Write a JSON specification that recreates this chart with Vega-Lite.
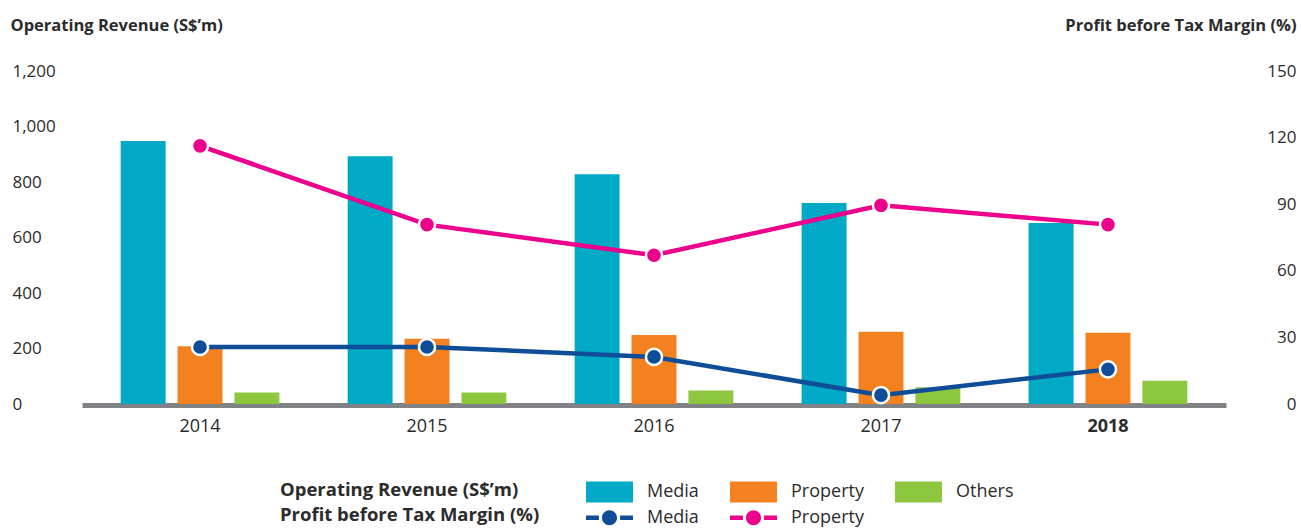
{
  "$schema": "https://vega.github.io/schema/vega-lite/v6.json",
  "width": 1144,
  "height": 333,
  "autosize": "none",
  "padding": {"left": 82, "top": 71, "right": 75, "bottom": 124},
  "background": "white",
  "config": {
    "view": {"stroke": null},
    "font": "Open Sans",
    "axis": {"grid": false, "labelFont": "Open Sans", "titleFont": "Open Sans", "labelColor": "#2b2b2b", "titleColor": "#2b2b2b"},
    "legend": {"labelFont": "Open Sans", "titleFont": "Open Sans", "labelColor": "#2b2b2b", "titleColor": "#2b2b2b"}
  },
  "datasets": {
    "revenue": [
      {"year": "2014", "segment": "Media", "revenue": 948},
      {"year": "2014", "segment": "Property", "revenue": 208},
      {"year": "2014", "segment": "Others", "revenue": 41},
      {"year": "2015", "segment": "Media", "revenue": 893},
      {"year": "2015", "segment": "Property", "revenue": 235},
      {"year": "2015", "segment": "Others", "revenue": 41},
      {"year": "2016", "segment": "Media", "revenue": 828},
      {"year": "2016", "segment": "Property", "revenue": 249},
      {"year": "2016", "segment": "Others", "revenue": 49},
      {"year": "2017", "segment": "Media", "revenue": 724},
      {"year": "2017", "segment": "Property", "revenue": 260},
      {"year": "2017", "segment": "Others", "revenue": 60},
      {"year": "2018", "segment": "Media", "revenue": 652},
      {"year": "2018", "segment": "Property", "revenue": 257},
      {"year": "2018", "segment": "Others", "revenue": 84}
    ],
    "margin": [
      {"year": "2014", "segment": "Media", "margin": 25.7},
      {"year": "2015", "segment": "Media", "margin": 25.7},
      {"year": "2016", "segment": "Media", "margin": 21.2},
      {"year": "2017", "segment": "Media", "margin": 4.0},
      {"year": "2018", "segment": "Media", "margin": 15.6},
      {"year": "2014", "segment": "Property", "margin": 116.3},
      {"year": "2015", "segment": "Property", "margin": 80.8},
      {"year": "2016", "segment": "Property", "margin": 67.0},
      {"year": "2017", "segment": "Property", "margin": 89.5},
      {"year": "2018", "segment": "Property", "margin": 80.8}
    ]
  },
  "encoding": {
    "x": {
      "field": "year", "type": "nominal",
      "scale": {"paddingInner": 0, "paddingOuter": 0.02},
      "axis": {
        "title": null, "labelAngle": 0, "ticks": false, "tickSize": 0,
        "domain": true, "domainColor": "#808285", "domainWidth": 5, "offset": 1,
        "labelFontSize": 18, "labelPadding": 12,
        "labelFontWeight": {"condition": {"test": "datum.value === '2018'", "value": "bold"}, "value": "normal"}
      }
    }
  },
  "layer": [
    {
      "data": {"name": "revenue"},
      "mark": {"type": "bar"},
      "encoding": {
        "xOffset": {
          "field": "segment", "type": "nominal", "sort": ["Media", "Property", "Others"],
          "scale": {"paddingInner": 0.21, "paddingOuter": 0.6}
        },
        "y": {
          "field": "revenue", "type": "quantitative",
          "scale": {"domain": [0, 1200], "nice": false},
          "axis": {
            "orient": "left",
            "title": "Operating Revenue (S$’m)", "titleAngle": 0, "titleAlign": "left",
            "titleX": -72, "titleY": -46, "titleBaseline": "middle",
            "titleFontSize": 16.5, "titleFontWeight": "bold",
            "values": [0, 200, 400, 600, 800, 1000, 1200], "format": ",.0f",
            "labelAlign": "left", "labelPadding": 70, "labelBaseline": "middle",
            "ticks": false, "tickSize": 0, "domain": false, "labelFontSize": 17
          }
        },
        "color": {
          "field": "segment", "type": "nominal", "sort": ["Media", "Property", "Others"],
          "scale": {"domain": ["Media", "Property", "Others"], "range": ["#00a9c6", "#f38120", "#8dc63f"]},
          "legend": {
            "orient": "none", "legendX": 198, "legendY": 397, "direction": "horizontal",
            "title": "Operating Revenue (S$’m)", "titleOrient": "left", "titleLimit": 500,
            "titleFontSize": 18.5, "titleFontWeight": "bold", "titlePadding": 67,
            "symbolType": "M-1,-0.447H1V0.447H-1Z", "symbolSize": 2209, "symbolStrokeWidth": 0,
            "symbolOpacity": 1, "labelFontSize": 18, "labelOffset": 14, "columnPadding": 31,
            "encode": {"title": {"update": {"dy": {"value": 5}}}}
          }
        }
      }
    },
    {
      "data": {"name": "margin"},
      "encoding": {
        "y": {
          "field": "margin", "type": "quantitative",
          "scale": {"domain": [0, 150], "nice": false},
          "axis": {
            "orient": "right",
            "title": "Profit before Tax Margin (%)", "titleAngle": 0, "titleAlign": "right",
            "titleX": 70, "titleY": -46, "titleBaseline": "middle",
            "titleFontSize": 16.5, "titleFontWeight": "bold",
            "values": [0, 30, 60, 90, 120, 150],
            "labelAlign": "right", "labelPadding": 70, "labelBaseline": "middle",
            "ticks": false, "tickSize": 0, "domain": false, "labelFontSize": 17
          }
        },
        "color": {
          "field": "segment", "type": "nominal", "sort": ["Media", "Property"],
          "scale": {"domain": ["Media", "Property"], "range": ["#0f4d98", "#ec008c"]},
          "legend": {
            "orient": "none", "legendX": 198, "legendY": 423, "direction": "horizontal",
            "title": "Profit before Tax Margin (%)", "titleOrient": "left", "titleLimit": 500,
            "titleFontSize": 18.5, "titleFontWeight": "bold", "titlePadding": 46,
            "symbolType": "M-1,-0.1H-0.45V0.1H-1Z M0.45,-0.1H1V0.1H0.45Z M-0.32,0 A0.32,0.32 0 1,0 0.32,0 A0.32,0.32 0 1,0 -0.32,0 Z",
            "symbolSize": 2209, "symbolStrokeWidth": 0, "symbolOpacity": 1,
            "labelFontSize": 18, "labelOffset": 14, "columnPadding": 31,
            "encode": {
              "title": {"update": {"dy": {"value": 5}}},
              "symbols": {
                "update": {
                  "fill": [{"test": "datum.value === 'Media'", "value": "#0f4d98"}, {"value": "#ec008c"}],
                  "stroke": {"value": "transparent"},
                  "strokeWidth": {"value": 0},
                  "opacity": {"value": 1}
                }
              }
            }
          }
        }
      },
      "layer": [
        {"mark": {"type": "line", "strokeWidth": 4.5}},
        {"mark": {"type": "point", "shape": "circle", "filled": true, "size": 260, "stroke": "white", "strokeWidth": 2.5, "opacity": 1}}
      ]
    }
  ],
  "resolve": {"scale": {"y": "independent", "color": "independent"}}
}
